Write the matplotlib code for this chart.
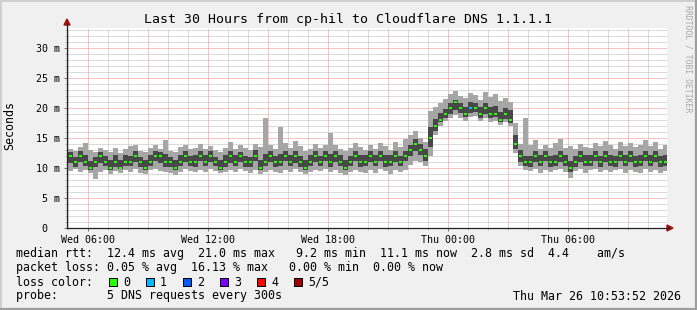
"""SmokePing style latency graph: last 30 hours from cp-hil to Cloudflare DNS."""

import numpy as np
import matplotlib
matplotlib.use("Agg")
import matplotlib.pyplot as plt
from matplotlib.patches import Rectangle, Polygon
from matplotlib.lines import Line2D

W, H = 697, 310
MONO = "DejaVu Sans Mono"

# one sample every 15 minutes, time in hours relative to Wed 06:00
t_start = -1.0
t_step = 0.25

median_ms = [
    12, 11, 12, 11, 10, 11, 12, 11, 10, 11, 10, 11, 11, 12, 11, 10, 11, 12, 12, 11,
    11, 10, 11, 12, 11, 11, 12, 11, 12, 11, 10, 11, 12, 11, 12, 11, 11, 12, 10, 11,
    12, 11, 11, 12, 11, 12, 11, 10, 11, 12, 11, 12, 11, 12, 11, 10, 11, 12, 11, 11,
    12, 11, 12, 11, 11, 12, 11, 12, 13, 14, 13, 12, 15, 17, 18, 19, 20, 21, 20, 19,
    20, 20, 19, 20, 19, 19, 18, 19, 18, 14, 12, 11, 11, 12, 11, 12, 11, 11, 12, 11,
    10, 11, 12, 11, 11, 12, 11, 12, 11, 11, 12, 11, 12, 11, 11, 12, 11, 12, 11, 11,
]
min_ms = [
    9.5, 9.8, 9.3, 9.6, 9.2, 8.1, 9.4, 9.7, 9.0, 9.5, 9.2, 9.6, 9.4, 9.8, 9.1, 9.0, 9.6, 9.9, 9.5, 9.3,
    9.2, 8.9, 9.4, 9.8, 9.5, 9.3, 9.7, 9.4, 9.8, 9.5, 9.1, 9.4, 9.7, 9.3, 9.8, 9.5, 9.2, 9.6, 9.0, 9.3,
    9.6, 9.4, 9.2, 9.7, 9.4, 9.8, 9.3, 9.0, 9.3, 9.7, 9.5, 9.8, 9.4, 9.6, 9.2, 8.9, 9.3, 9.7, 9.4, 9.1,
    9.6, 9.2, 9.8, 9.5, 9.0, 9.7, 9.4, 9.6, 10.5, 11.2, 11.0, 10.4, 12.0, 15.5, 17.0, 17.8, 18.3, 18.8, 18.4, 17.9,
    18.5, 18.7, 17.8, 18.4, 17.6, 17.9, 17.2, 17.7, 17.0, 12.5, 10.3, 9.6, 9.5, 9.8, 9.2, 9.6, 9.4, 9.7, 9.9, 9.3,
    8.3, 9.5, 9.8, 9.2, 9.6, 9.9, 9.4, 9.7, 9.3, 9.6, 9.8, 9.2, 9.7, 9.4, 9.1, 9.8, 9.3, 9.6, 9.2, 9.5,
]
max_ms = [
    13.2, 12.8, 13.5, 14.2, 13.0, 12.6, 13.4, 13.0, 12.7, 13.3, 12.5, 13.1, 13.6, 13.9, 12.8, 12.6, 13.4, 13.8, 13.2, 14.6,
    12.9, 12.7, 13.5, 13.8, 13.1, 13.4, 14.0, 13.2, 13.7, 13.0, 12.6, 13.3, 14.3, 13.1, 13.8, 13.4, 13.0, 14.0, 13.5, 18.3,
    13.9, 13.2, 16.8, 14.1, 13.3, 14.5, 13.6, 12.9, 13.2, 14.0, 13.4, 13.9, 15.8, 13.8, 13.1, 12.8, 13.3, 14.2, 13.5, 13.0,
    13.9, 13.2, 14.1, 13.6, 13.0, 14.3, 13.5, 14.8, 15.5, 16.2, 15.0, 14.3, 19.5, 20.2, 20.8, 21.5, 22.3, 22.8, 22.0, 21.6,
    22.5, 22.1, 21.4, 22.7, 21.8, 22.4, 21.2, 21.6, 21.0, 17.5, 14.0, 18.3, 13.8, 14.6, 13.2, 13.9, 13.4, 14.1, 14.8, 13.3,
    13.6, 13.1, 14.0, 13.5, 13.3, 14.2, 13.7, 14.5, 13.9, 13.2, 14.4, 13.6, 14.1, 13.5, 13.8, 14.6, 13.7, 14.3, 13.2, 13.9,
]
# second and fourth of the five sorted pings (dark smoke)
low_ms = [
    10.8, 10.2, 11.0, 10.4, 9.6, 10.1, 10.9, 10.3, 9.7, 10.2, 9.8, 10.4, 10.3, 11.0, 10.2, 9.7, 10.4, 11.1, 10.9, 10.2,
    10.1, 9.6, 10.3, 11.0, 10.3, 10.2, 11.1, 10.4, 11.0, 10.3, 9.7, 10.2, 10.9, 10.4, 11.0, 10.1, 10.2, 11.1, 9.6, 10.3,
    11.0, 10.2, 10.4, 11.1, 10.3, 10.9, 10.2, 9.7, 10.4, 11.0, 10.3, 11.1, 10.2, 11.0, 10.4, 9.6, 10.3, 11.1, 10.2, 10.4,
    11.0, 10.3, 11.1, 10.2, 10.4, 11.0, 10.3, 11.1, 12.0, 12.8, 12.1, 11.2, 13.5, 16.2, 17.6, 18.4, 19.0, 19.6, 19.1, 18.5,
    19.2, 19.3, 18.4, 19.0, 18.3, 18.5, 17.6, 18.2, 17.5, 13.2, 11.0, 10.3, 10.2, 11.0, 10.3, 11.1, 10.2, 10.4, 11.0, 10.3,
    9.4, 10.2, 11.0, 10.4, 10.3, 11.1, 10.2, 11.0, 10.4, 10.2, 11.1, 10.3, 11.0, 10.2, 10.4, 11.1, 10.3, 11.0, 10.2, 10.4,
]
high_ms = [
    12.6, 11.9, 12.8, 12.2, 11.2, 11.8, 12.7, 12.0, 11.3, 12.1, 11.4, 12.2, 12.0, 12.9, 11.8, 11.4, 12.1, 12.8, 12.7, 12.3,
    11.8, 11.3, 12.2, 12.9, 12.0, 12.1, 12.8, 12.2, 12.9, 11.8, 11.4, 12.1, 12.9, 12.1, 12.7, 12.0, 11.9, 13.0, 11.3, 12.4,
    12.8, 12.0, 12.3, 12.9, 12.1, 12.8, 12.0, 11.3, 12.2, 12.9, 12.0, 12.8, 12.3, 12.8, 12.1, 11.4, 12.0, 12.9, 12.2, 12.1,
    12.8, 12.1, 12.9, 12.2, 12.1, 12.9, 12.0, 12.8, 13.9, 14.8, 14.0, 13.1, 16.8, 18.2, 19.1, 19.9, 20.8, 21.4, 20.9, 20.2,
    21.0, 20.9, 20.2, 20.9, 20.1, 20.3, 19.4, 20.0, 19.6, 15.5, 13.0, 12.0, 12.0, 12.8, 12.1, 12.9, 12.0, 12.2, 12.9, 12.1,
    11.2, 12.0, 12.8, 12.2, 12.1, 12.9, 12.0, 12.8, 12.2, 12.0, 12.9, 12.1, 12.8, 12.0, 12.2, 12.9, 12.1, 12.8, 12.0, 12.2,
]
# lost pings per sample (index into loss_colors)
lost = [
    0, 0, 0, 0, 0, 0, 0, 0, 0, 0, 0, 0, 0, 0, 0, 0, 0, 0, 0, 0,
    0, 0, 0, 0, 0, 0, 0, 0, 0, 0, 0, 0, 0, 0, 0, 0, 0, 0, 0, 0,
    0, 0, 0, 0, 0, 0, 0, 0, 0, 0, 0, 0, 0, 0, 0, 0, 0, 0, 0, 0,
    0, 0, 0, 0, 0, 0, 0, 0, 0, 0, 0, 0, 0, 0, 0, 0, 0, 0, 0, 0,
    1, 0, 0, 0, 0, 0, 0, 0, 0, 0, 0, 0, 0, 0, 0, 0, 0, 0, 0, 0,
    0, 0, 0, 0, 0, 0, 0, 0, 0, 0, 0, 0, 0, 0, 0, 0, 0, 0, 0, 0,
]

loss_colors = ["#26ff00", "#00b8ff", "#0059ff", "#7e00ff", "#ff0000", "#a00000"]
loss_labels = ["0", "1", "2", "3", "4", "5/5"]

time_ticks = [0, 6, 12, 18, 24]
time_labels = ["Wed 06:00", "Wed 12:00", "Wed 18:00", "Thu 00:00", "Thu 06:00"]
rtt_ticks = [0, 5, 10, 15, 20, 25, 30]
rtt_labels = ["0  ", "5 m", "10 m", "15 m", "20 m", "25 m", "30 m"]

title = "Last 30 Hours from cp-hil to Cloudflare DNS 1.1.1.1"
legend_lines = [
    "median rtt:  12.4 ms avg  21.0 ms max   9.2 ms min  11.1 ms now  2.8 ms sd  4.4    am/s",
    "packet loss: 0.05 % avg  16.13 % max   0.00 % min  0.00 % now",
    "loss color:",
    "probe:       5 DNS requests every 300s",
]
stamp = "Thu Mar 26 10:53:52 2026"


def fx(x):
    return x / W


def fy(y):
    return 1 - y / H


def main() -> None:
    fig = plt.figure(figsize=(W / 100, H / 100), dpi=100, facecolor="#f0f0f0")

    # plot canvas: x 67..667 px, y 28..228 px
    ax = fig.add_axes([fx(67), fy(228), 600 / W, 200 / H])
    ax.set_facecolor("white")
    ax.set_xlim(-1.05, 28.95)
    ax.set_ylim(0, 200 / 6)
    for s in ax.spines.values():
        s.set_visible(False)

    # grid: red dotted every 3 h / 5 ms, grey dotted every 1 h / 1 ms
    grid_kw = dict(lw=0.72, ls=(0, (1, 1)), zorder=1)
    for h in range(-1, 29):
        ax.axvline(h, color="#f08a8a" if h % 3 == 0 else "#b8b8b8", **grid_kw)
    for v in range(1, 34):
        ax.axhline(v, color="#f08a8a" if v % 5 == 0 else "#b8b8b8", **grid_kw)

    t = t_start + t_step * np.arange(len(median_ms))
    med = np.array(median_ms, dtype=float)
    lo = np.array(min_ms)
    hi = np.array(max_ms)
    q1 = np.array(low_ms)
    q3 = np.array(high_ms)

    # smoke
    ax.bar(t, hi - lo, bottom=lo, width=t_step, align="edge",
           color="#a6a6a6", linewidth=0, zorder=2)
    ax.bar(t, q3 - q1, bottom=q1, width=t_step, align="edge",
           color="#484848", linewidth=0, zorder=3)
    # median, coloured by loss
    ax.bar(t + 0.04, 0.34, bottom=med - 0.17, width=t_step - 0.08, align="edge",
           color=[loss_colors[k] for k in lost], linewidth=0, zorder=4)

    ax.set_xticks(time_ticks, time_labels)
    ax.set_yticks(rtt_ticks, rtt_labels)
    ax.set_xticks(range(-1, 29), minor=True)
    ax.set_yticks(range(1, 34), minor=True)
    ax.tick_params(axis="both", which="major", length=2.2, width=0.72,
                   color="#777777", labelsize=7.2, pad=2.5)
    ax.tick_params(axis="both", which="minor", length=1.4, width=0.72, color="#bbbbbb")
    for lab in ax.get_xticklabels() + ax.get_yticklabels():
        lab.set_fontfamily(MONO)

    # axes with arrows
    fig.add_artist(Line2D([fx(67), fx(67)], [fy(228), fy(24)], color="#222222", lw=0.9))
    fig.add_artist(Line2D([fx(67), fx(669)], [fy(228), fy(228)], color="#222222", lw=0.9))
    fig.add_artist(Polygon([[fx(64), fy(25)], [fx(70), fy(25)], [fx(67), fy(19)]],
                           closed=True, color="#a01010"))
    fig.add_artist(Polygon([[fx(667), fy(225)], [fx(667), fy(231)], [fx(673), fy(228)]],
                           closed=True, color="#a01010"))

    # frame shading
    fig.add_artist(Line2D([0, 1], [fy(0.7), fy(0.7)], color="#cfcfcf", lw=1.4))
    fig.add_artist(Line2D([fx(0.7), fx(0.7)], [0, 1], color="#cfcfcf", lw=1.4))
    fig.add_artist(Line2D([0, 1], [fy(H - 1), fy(H - 1)], color="#9e9e9e", lw=1.6))
    fig.add_artist(Line2D([fx(W - 1), fx(W - 1)], [0, 1], color="#9e9e9e", lw=1.6))

    # texts
    fig.text(fx(347.5), fy(19), title, ha="center", va="center",
             fontsize=9.5, fontfamily=MONO)
    fig.text(fx(10), fy(126), "Seconds", rotation=90, ha="center", va="center",
             fontsize=8.4, fontfamily=MONO)
    fig.text(fx(688), fy(5), "RRDTOOL / TOBI OETIKER", rotation=270, ha="center",
             va="top", fontsize=5.9, fontfamily=MONO, color="#a8a8a8")

    for k, line in enumerate(legend_lines):
        fig.text(fx(16), fy(254 + 14 * k), line, ha="left", va="center",
                 fontsize=8.4, fontfamily=MONO)
    fig.text(fx(681), fy(296), stamp, ha="right", va="center",
             fontsize=8.4, fontfamily=MONO)

    # loss colour legend
    for k, (c, lab) in enumerate(zip(loss_colors, loss_labels)):
        x0 = 109 + 37 * k
        fig.add_artist(Rectangle((fx(x0), fy(286)), 8 / W, 8 / H, facecolor=c,
                                 edgecolor="black", lw=0.72))
        fig.text(fx(x0 + 14), fy(282), lab, ha="left", va="center",
                 fontsize=8.4, fontfamily=MONO)

    fig.savefig("out.png", dpi=100, facecolor=fig.get_facecolor())
    plt.close(fig)


if __name__ == "__main__":
    main()
